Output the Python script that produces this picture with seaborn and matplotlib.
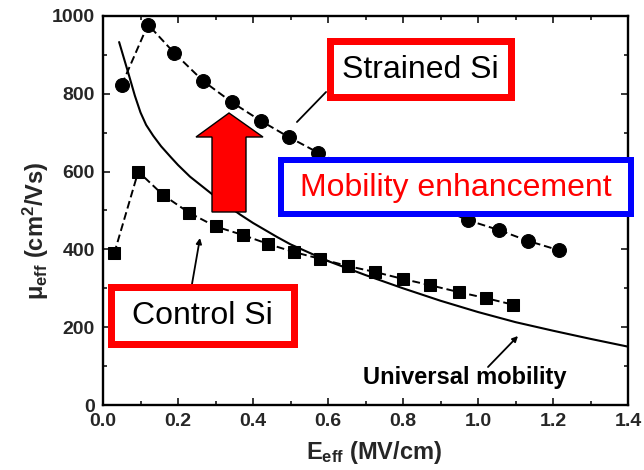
import numpy as np
import pandas as pd
import matplotlib
matplotlib.use("Agg")
import matplotlib.pyplot as plt
from matplotlib.patches import Rectangle, Polygon
from matplotlib.ticker import MultipleLocator
import seaborn as sns

# ---- data ----
strained_E = [0.05, 0.12, 0.19, 0.267, 0.344, 0.42, 0.495, 0.573, 0.65, 0.73, 0.81, 0.89, 0.973, 1.055, 1.133, 1.215]
strained_mu = [823, 978, 905, 833, 778, 731, 689, 649, 613, 580, 545, 510, 475, 450, 422, 398]

control_E = [0.03, 0.094, 0.16, 0.23, 0.30, 0.373, 0.44, 0.51, 0.578, 0.654, 0.725, 0.80, 0.872, 0.95, 1.02, 1.093]
control_mu = [390, 600, 540, 494, 459, 437, 414, 393, 376, 357, 342, 324, 308, 290, 275, 258]

universal_E = [0.043, 0.07, 0.085, 0.1, 0.115, 0.134, 0.155, 0.18, 0.2, 0.232, 0.3, 0.365,
               0.4, 0.464, 0.5, 0.6, 0.7, 0.8, 0.9, 1.0, 1.1, 1.2, 1.3, 1.4]
universal_mu = [933, 845, 795, 752, 720, 692, 665, 638, 617, 587, 535, 490,
                468, 432, 413, 370, 334, 300, 268, 239, 213, 191, 170, 150]

x_ticks = [0.0, 0.2, 0.4, 0.6, 0.8, 1.0, 1.2, 1.4]
y_ticks = [0, 200, 400, 600, 800, 1000]

W, H = 644, 470

sns.set_style("ticks")
plt.rcParams["font.family"] = ["Liberation Sans", "DejaVu Sans"]
plt.rcParams["mathtext.fontset"] = "custom"
plt.rcParams["mathtext.rm"] = "Liberation Sans:bold"
plt.rcParams["mathtext.it"] = "Liberation Sans:bold"
plt.rcParams["mathtext.bf"] = "Liberation Sans:bold"

fig = plt.figure(figsize=(W / 100, H / 100), dpi=100)
ax = fig.add_axes([103 / W, 1 - 405 / H, (628 - 103) / W, (405 - 16) / H])

df_s = pd.DataFrame({"E": strained_E, "mu": strained_mu})
df_c = pd.DataFrame({"E": control_E, "mu": control_mu})
df_u = pd.DataFrame({"E": universal_E, "mu": universal_mu})

sns.lineplot(data=df_u, x="E", y="mu", ax=ax, color="black", linewidth=1.5,
             sort=False, errorbar=None)
sns.lineplot(data=df_s, x="E", y="mu", ax=ax, color="black", linewidth=1.4,
             linestyle=(0, (4, 2)), marker="o", markersize=10,
             markeredgecolor="black", markerfacecolor="black",
             sort=False, errorbar=None)
sns.lineplot(data=df_c, x="E", y="mu", ax=ax, color="black", linewidth=1.4,
             linestyle=(0, (4, 2)), marker="s", markersize=8,
             markeredgecolor="black", markerfacecolor="black",
             sort=False, errorbar=None)

ax.set_xlim(0, 1.4)
ax.set_ylim(0, 1000)
ax.set_xticks(x_ticks)
ax.set_yticks(y_ticks)
ax.set_xticklabels([f"{v:.1f}" for v in x_ticks])
ax.set_yticklabels([str(v) for v in y_ticks])
ax.xaxis.set_minor_locator(MultipleLocator(0.1))
ax.yaxis.set_minor_locator(MultipleLocator(100))
ax.tick_params(which="both", direction="in", top=True, right=True, width=1.3,
               labelsize=14, pad=6)
ax.tick_params(which="major", length=5)
ax.tick_params(which="minor", length=3)
for lab in ax.get_xticklabels() + ax.get_yticklabels():
    lab.set_fontweight("bold")
for sp in ax.spines.values():
    sp.set_linewidth(1.7)
    sp.set_color("black")
ax.set_xlabel("")
ax.set_ylabel("")

def F(px, py):
    return (px / W, 1 - py / H)

# axis labels
fig.text(*F(374, 452), r"E$_{\mathrm{eff}}$ (MV/cm)", fontsize=17, fontweight="bold",
         ha="center", va="center")
fig.text(*F(36, 231), r"$\mathrm{\mu}$$_{\mathrm{eff}}$ (cm$^{\mathrm{2}}$/Vs)", fontsize=17,
         fontweight="bold", ha="center", va="center", rotation=90)

# annotation lines / arrows
ax.annotate("", xy=(295, H - 124), xycoords="figure pixels",
            xytext=(328, H - 90), textcoords="figure pixels",
            arrowprops=dict(arrowstyle="-", color="black", lw=1.3))
ax.annotate("", xy=(200, H - 238), xycoords="figure pixels",
            xytext=(192, H - 284), textcoords="figure pixels",
            arrowprops=dict(arrowstyle="-|>", color="black", lw=1.3,
                            mutation_scale=8, shrinkA=0, shrinkB=0))
ax.annotate("", xy=(518, H - 336), xycoords="figure pixels",
            xytext=(488, H - 367), textcoords="figure pixels",
            arrowprops=dict(arrowstyle="-|>", color="black", lw=1.3,
                            mutation_scale=8, shrinkA=0, shrinkB=0))

def box(x0, y0, x1, y1, color, thick):
    t = thick / 2
    (fx0, fy1) = F(x0 + t, y0 + t)
    (fx1, fy0) = F(x1 - t, y1 - t)
    r = Rectangle((fx0, fy0), fx1 - fx0, fy1 - fy0, transform=fig.transFigure,
                  facecolor="white", edgecolor=color, linewidth=thick * 0.72,
                  zorder=5)
    fig.patches.append(r)

box(326, 37, 515, 100, "#ff0000", 7)
box(278, 157, 634, 217, "#0000ff", 6)
box(107, 283, 297, 347, "#ff0000", 7)

fig.text(*F(420.5, 70), "Strained Si", fontsize=23, ha="center", va="center",
         color="black", zorder=6)
fig.text(*F(456, 188), "Mobility enhancement", fontsize=23, ha="center", va="center",
         color="#ff0000", zorder=6)
fig.text(*F(202, 316), "Control Si", fontsize=23, ha="center", va="center",
         color="black", zorder=6)
fig.text(*F(465, 384), "Universal mobility", fontsize=17, fontweight="bold",
         ha="center", va="baseline", color="black", zorder=6)

# big red arrow
pts = [(229, 113), (263, 137), (246, 137), (246, 212), (212, 212), (212, 137), (196, 137)]
arrow = Polygon([F(*p) for p in pts], closed=True, transform=fig.transFigure,
                facecolor="#ff0000", edgecolor="black", linewidth=1.0, zorder=5)
fig.patches.append(arrow)

fig.savefig("out.png", dpi=100)
